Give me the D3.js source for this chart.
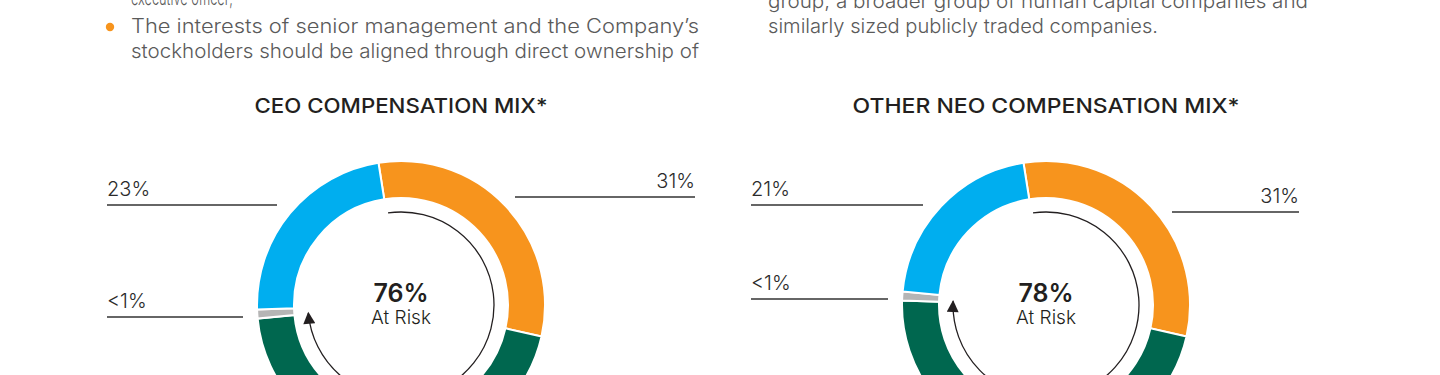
<!doctype html>
<html>
<head>
<meta charset="utf-8"/>
<title>Compensation mix</title>
<script src="https://d3js.org/d3.v7.min.js"></script>
<style>
  body { margin: 0; background: #fff; }
  svg { display: block; }
</style>
</head>
<body>
<div id="chart"></div>
<script>
    // data
    var segmentColors = ["#F7941D", "#00674F", "#B5B5B5", "#00AEEF"];
    var ceoValues = [31, 45, 1, 23];
    var ceoLabels = ["31%", "45%", "<1%", "23%"];
    var neoValues = [31, 47, 1, 21];
    var neoLabels = ["31%", "47%", "<1%", "21%"];
    var atRiskSegments = 2;   // first two segments are at risk
    var ceoTitle = "CEO COMPENSATION MIX*";
    var neoTitle = "OTHER NEO COMPENSATION MIX*";
    var centerSub = "At Risk";

    var leftText = ["executive officer;",
        "The interests of senior management and the Company\u2019s",
        "stockholders should be aligned through direct ownership of"];
    var rightText = ["group, a broader group of human capital companies and",
        "similarly sized publicly traded companies."];

    var W = 1440, H = 375;
    var svg = d3.select("#chart").append("svg")
        .attr("width", W)
        .attr("height", H);

    var bodyFont = "Inter, 'Open Sans', sans-serif";

    // top paragraph text
    var body = svg.append("g")
        .attr("font-family", bodyFont)
        .attr("font-weight", 300)
        .attr("font-size", 19.5)
        .attr("fill", "#5a5a5a");

    body.append("text").attr("x", 131).attr("y", 5)
        .attr("textLength", 102).attr("lengthAdjust", "spacingAndGlyphs")
        .text(leftText[0]);
    body.append("text").attr("x", 131).attr("y", 33)
        .attr("textLength", 568).attr("lengthAdjust", "spacingAndGlyphs")
        .text(leftText[1]);
    body.append("text").attr("x", 131).attr("y", 58)
        .attr("textLength", 568).attr("lengthAdjust", "spacingAndGlyphs")
        .text(leftText[2]);
    svg.append("circle").attr("cx", 110).attr("cy", 27).attr("r", 4.2).attr("fill", "#F7941D");

    body.append("text").attr("x", 768).attr("y", 8)
        .attr("textLength", 540).attr("lengthAdjust", "spacingAndGlyphs")
        .text(rightText[0]);
    body.append("text").attr("x", 768).attr("y", 33)
        .attr("textLength", 390).attr("lengthAdjust", "spacingAndGlyphs")
        .text(rightText[1]);

    // arrow marker
    svg.append("defs").append("marker")
        .attr("id", "arrow")
        .attr("viewBox", "0 0 10 10")
        .attr("refX", 9).attr("refY", 5)
        .attr("markerUnits", "userSpaceOnUse")
        .attr("markerWidth", 13).attr("markerHeight", 12)
        .attr("orient", "auto")
        .append("path")
        .attr("d", "M0,0 L10,5 L0,10 z")
        .attr("fill", "#231f20");

    var startAngle = -9 * Math.PI / 180;
    var pie = d3.pie().sort(null)
        .startAngle(startAngle)
        .endAngle(startAngle + 2 * Math.PI);
    var arc = d3.arc().innerRadius(107).outerRadius(144);

    function drawDonut(cx, cy, title, titleLen, values, labels, layout) {
        var g = svg.append("g").attr("transform", "translate(" + cx + "," + cy + ")");

        g.append("text")
            .attr("x", 0).attr("y", -192)
            .attr("text-anchor", "middle")
            .attr("font-family", bodyFont)
            .attr("font-weight", 500)
            .attr("font-size", 20)
            .attr("fill", "#231f20")
            .attr("textLength", titleLen).attr("lengthAdjust", "spacingAndGlyphs")
            .text(title);

        var arcs = pie(values);
        g.selectAll("path.seg")
            .data(arcs)
            .enter().append("path")
            .attr("class", "seg")
            .attr("d", arc)
            .attr("fill", function (d, i) { return segmentColors[i]; })
            .attr("stroke", "#fff")
            .attr("stroke-width", 2);

        // arrow round the at-risk part
        var a0 = arcs[0].startAngle + Math.PI / 180;
        var a1 = arcs[atRiskSegments - 1].endAngle + 0.5 * Math.PI / 180;
        var p = d3.path();
        p.arc(0, 0, 93, a0 - Math.PI / 2, a1 - Math.PI / 2);
        g.append("path")
            .attr("d", p.toString())
            .attr("fill", "none")
            .attr("stroke", "#231f20")
            .attr("stroke-width", 1.3)
            .attr("marker-end", "url(#arrow)");

        var total = d3.sum(values.slice(0, atRiskSegments));
        g.append("text")
            .attr("x", 0).attr("y", -3)
            .attr("text-anchor", "middle")
            .attr("font-family", bodyFont)
            .attr("font-weight", 600)
            .attr("font-size", 25)
            .attr("fill", "#231f20")
            .text(total + "%");
        g.append("text")
            .attr("x", 0).attr("y", 19)
            .attr("text-anchor", "middle")
            .attr("font-family", bodyFont)
            .attr("font-weight", 300)
            .attr("font-size", 19)
            .attr("fill", "#231f20")
            .text(centerSub);

        // leader labels
        layout.forEach(function (l) {
            g.append("line")
                .attr("x1", l.x0).attr("x2", l.x1)
                .attr("y1", l.y).attr("y2", l.y)
                .attr("stroke", "#333")
                .attr("stroke-width", 1.4);
            g.append("text")
                .attr("x", l.right ? l.x1 : l.x0)
                .attr("y", l.y - 9.5)
                .attr("text-anchor", l.right ? "end" : "start")
                .attr("font-family", bodyFont)
                .attr("font-weight", 300)
                .attr("font-size", 20)
                .attr("fill", "#2b2b2b")
                .text(labels[l.i]);
        });
    }

    drawDonut(401, 305, ceoTitle, 293, ceoValues, ceoLabels, [
        { i: 0, right: true, y: -108, x0: 114, x1: 294 },
        { i: 3, right: false, y: -100, x0: -294, x1: -124 },
        { i: 2, right: false, y: 12, x0: -294, x1: -158 }
    ]);
    drawDonut(1046, 305, neoTitle, 387, neoValues, neoLabels, [
        { i: 0, right: true, y: -93, x0: 126, x1: 253 },
        { i: 3, right: false, y: -100, x0: -295, x1: -123 },
        { i: 2, right: false, y: -6, x0: -295, x1: -158 }
    ]);
</script>
</body>
</html>
